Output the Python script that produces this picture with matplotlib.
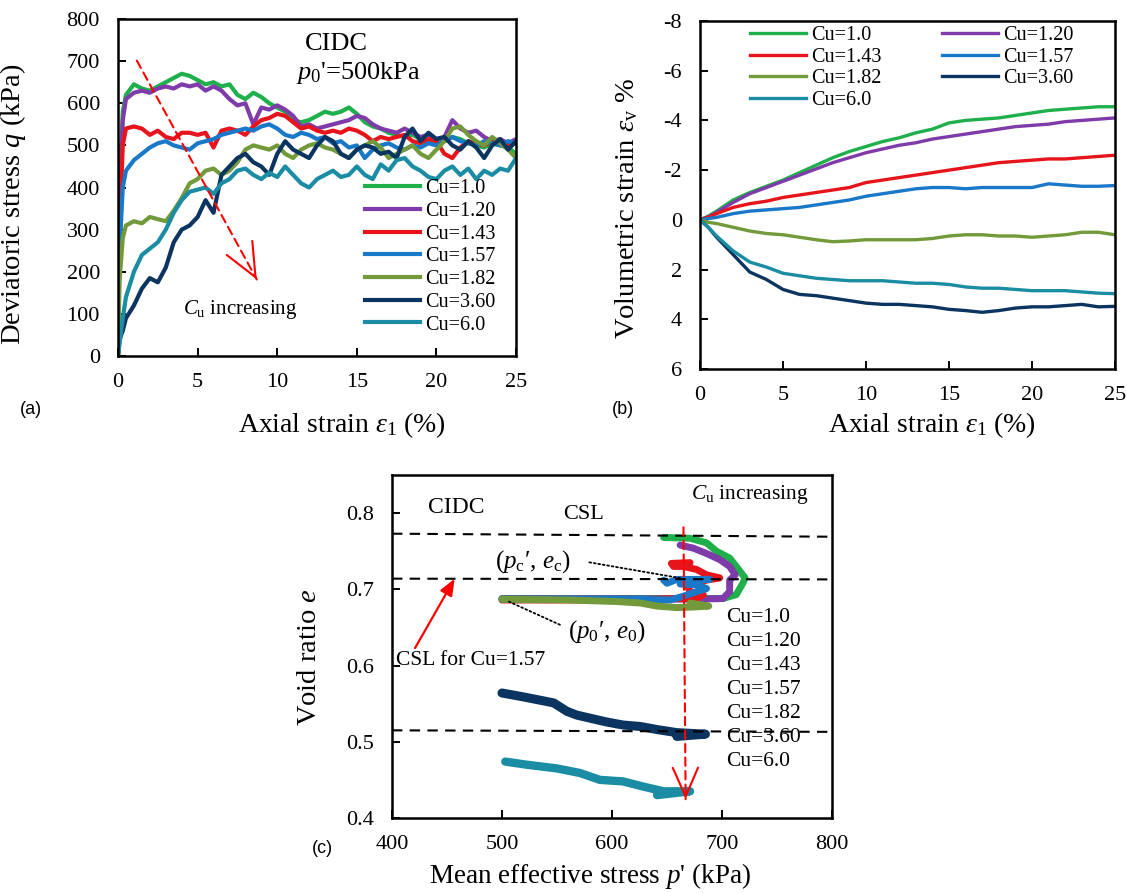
import numpy as np
import matplotlib.pyplot as plt

plt.rcParams['font.family'] = ['Liberation Serif', 'DejaVu Serif']
plt.rcParams['mathtext.fontset'] = 'custom'
plt.rcParams['mathtext.rm'] = 'Liberation Serif'
plt.rcParams['mathtext.it'] = 'Liberation Serif:italic'
plt.rcParams['axes.unicode_minus'] = False

labels = ['Cu=1.0', 'Cu=1.20', 'Cu=1.43', 'Cu=1.57', 'Cu=1.82', 'Cu=3.60', 'Cu=6.0']
colors = ['#1FAF4B', '#7E3BA9', '#E8141B', '#1A78C8', '#72993A', '#0B3560', '#1A8CA3']

# (a) deviatoric stress vs axial strain
strain_a = [0, 0.1, 0.3, 0.5, 1.0, 1.5, 2.0, 2.5, 3.0, 3.5, 4.0, 4.5, 5.0, 5.5, 6.0, 6.5,
            7.0, 7.5, 8.0, 8.5, 9.0, 9.5, 10.0, 10.5, 11.0, 11.5, 12.0, 12.5, 13.0, 13.5,
            14.0, 14.5, 15.0, 15.5, 16.0, 16.5, 17.0, 17.5, 18.0, 18.5, 19.0, 19.5, 20.0,
            20.5, 21.0, 21.5, 22.0, 22.5, 23.0, 23.5, 24.0, 24.5, 25.0]
q_100 = [0, 400, 580, 620, 645, 635, 630, 640, 650, 660, 670, 665, 655, 645, 650, 640, 645,
         620, 610, 625, 615, 600, 590, 580, 560, 555, 560, 570, 580, 575, 580, 590, 575, 555,
         545, 540, 530, 525, 520, 525, 515, 510, 505, 510, 520, 515, 505, 500, 495, 505, 500,
         495, 480]
q_120 = [0, 350, 560, 610, 625, 630, 625, 635, 640, 635, 645, 640, 645, 630, 640, 630, 610,
         595, 600, 550, 590, 585, 595, 585, 570, 545, 550, 540, 545, 550, 555, 560, 570, 565,
         550, 540, 535, 530, 540, 530, 520, 525, 515, 520, 560, 540, 530, 535, 520, 510, 515,
         505, 515]
q_143 = [0, 300, 500, 540, 545, 540, 525, 535, 520, 515, 530, 530, 525, 530, 495, 535, 540,
         535, 525, 545, 560, 565, 575, 570, 555, 540, 545, 535, 530, 535, 530, 540, 535, 525,
         510, 520, 515, 520, 525, 510, 505, 515, 510, 480, 470, 495, 510, 505, 500, 510, 505,
         500, 505]
q_157 = [0, 250, 400, 440, 465, 480, 495, 505, 510, 500, 495, 490, 505, 510, 515, 525, 530,
         535, 540, 535, 545, 550, 540, 525, 520, 530, 525, 515, 520, 505, 510, 495, 500, 470,
         490, 500, 505, 495, 490, 500, 495, 505, 500, 510, 520, 510, 505, 500, 510, 505, 500,
         510, 505]
q_182 = [0, 180, 280, 310, 320, 315, 330, 325, 320, 345, 375, 410, 420, 440, 445, 430, 440,
         460, 490, 500, 495, 490, 500, 480, 470, 490, 500, 505, 495, 490, 480, 470, 490, 500,
         510, 495, 470, 480, 490, 500, 480, 470, 490, 510, 540, 545, 525, 510, 500, 520, 505,
         490, 470]
q_360 = [0, 40, 60, 90, 120, 160, 185, 175, 210, 270, 300, 310, 330, 370, 340, 430, 450,
         470, 480, 460, 450, 430, 480, 510, 490, 480, 470, 500, 520, 510, 480, 470, 490, 500,
         495, 480, 485, 470, 520, 540, 510, 530, 515, 520, 500, 490, 510, 495, 470, 500, 515,
         490, 510]
q_600 = [0, 30, 90, 140, 200, 240, 255, 270, 300, 340, 370, 390, 395, 400, 385, 410, 420,
         440, 445, 430, 420, 435, 425, 450, 430, 410, 400, 420, 430, 440, 425, 430, 450, 430,
         420, 455, 440, 465, 470, 450, 440, 425, 420, 440, 450, 430, 445, 420, 440, 430, 445,
         440, 470]

# (b) volumetric strain vs axial strain
strain_b = [0, 0.5, 1, 2, 3, 4, 5, 6, 7, 8, 9, 10, 11, 12, 13, 14, 15, 16, 17, 18, 19,
            20, 21, 22, 23, 24, 25]
ev_100 = [0, -0.15, -0.35, -0.8, -1.1, -1.35, -1.6, -1.9, -2.2, -2.5, -2.75, -2.95, -3.15,
          -3.3, -3.5, -3.65, -3.9, -4.0, -4.05, -4.1, -4.2, -4.3, -4.4, -4.45, -4.5, -4.55, -4.55]
ev_120 = [0, -0.12, -0.3, -0.7, -1.05, -1.3, -1.55, -1.8, -2.05, -2.3, -2.5, -2.7, -2.85,
          -3.0, -3.1, -3.25, -3.35, -3.45, -3.55, -3.65, -3.75, -3.8, -3.85, -3.95, -4.0, -4.05, -4.1]
ev_143 = [0, -0.1, -0.25, -0.5, -0.65, -0.75, -0.9, -1.0, -1.1, -1.2, -1.3, -1.5, -1.6,
          -1.7, -1.8, -1.9, -2.0, -2.1, -2.2, -2.3, -2.35, -2.4, -2.45, -2.45, -2.5, -2.55, -2.6]
ev_157 = [0, -0.05, -0.1, -0.25, -0.35, -0.4, -0.45, -0.5, -0.6, -0.7, -0.8, -0.95, -1.05,
          -1.15, -1.25, -1.3, -1.3, -1.25, -1.3, -1.3, -1.3, -1.3, -1.45, -1.4, -1.35, -1.35, -1.38]
ev_182 = [0, 0.1, 0.15, 0.3, 0.45, 0.55, 0.6, 0.7, 0.8, 0.88, 0.85, 0.8, 0.8, 0.8, 0.8,
          0.75, 0.65, 0.6, 0.6, 0.65, 0.65, 0.7, 0.65, 0.6, 0.5, 0.5, 0.6]
ev_360 = [0, 0.3, 0.7, 1.4, 2.1, 2.4, 2.8, 3.0, 3.05, 3.15, 3.25, 3.35, 3.4, 3.4, 3.45,
          3.5, 3.6, 3.65, 3.72, 3.65, 3.55, 3.5, 3.5, 3.45, 3.4, 3.5, 3.48]
ev_600 = [0, 0.3, 0.65, 1.25, 1.7, 1.9, 2.15, 2.25, 2.35, 2.4, 2.45, 2.45, 2.45, 2.5, 2.55,
          2.55, 2.6, 2.7, 2.75, 2.75, 2.8, 2.85, 2.85, 2.85, 2.9, 2.95, 2.97]

# (c) void ratio vs mean effective stress
p_100 = [500, 560, 620, 650, 671, 701, 713, 719, 721, 713, 707, 695, 686, 671, 647]
e_100 = [0.688, 0.688, 0.688, 0.688, 0.688, 0.688, 0.693, 0.708, 0.715, 0.730, 0.741, 0.750,
         0.761, 0.767, 0.768]
p_120 = [500, 560, 620, 677, 701, 707, 707, 712, 707, 698, 686, 674, 662]
e_120 = [0.6875, 0.6875, 0.6875, 0.687, 0.688, 0.697, 0.712, 0.719, 0.730, 0.739, 0.747,
         0.754, 0.758]
p_143 = [500, 560, 620, 659, 677, 683, 671, 668, 686, 698, 686, 677, 665, 656, 654, 671]
e_143 = [0.686, 0.686, 0.686, 0.688, 0.688, 0.693, 0.697, 0.706, 0.712, 0.715, 0.719, 0.726,
         0.730, 0.730, 0.734, 0.735]
p_157 = [500, 560, 620, 653, 665, 677, 686, 677, 662, 671, 689, 659, 650, 647]
e_157 = [0.687, 0.687, 0.687, 0.686, 0.691, 0.697, 0.701, 0.706, 0.707, 0.712, 0.713, 0.713,
         0.708, 0.712]
p_182 = [500, 560, 604, 626, 641, 659, 677, 688, 671]
e_182 = [0.687, 0.686, 0.684, 0.682, 0.678, 0.676, 0.677, 0.678, 0.682]
p_360 = [500, 519, 547, 559, 568, 595, 610, 626, 641, 659, 685, 659]
e_360 = [0.564, 0.559, 0.551, 0.540, 0.535, 0.526, 0.522, 0.520, 0.516, 0.512, 0.510, 0.507]
p_600 = [503, 522, 550, 571, 589, 610, 629, 647, 671, 641]
e_600 = [0.474, 0.470, 0.465, 0.459, 0.450, 0.448, 0.441, 0.435, 0.435, 0.430]

csl_p = [400, 800]
csl_e = [[0.773, 0.769], [0.714, 0.713], [0.515, 0.513]]

q_all = [q_100, q_120, q_143, q_157, q_182, q_360, q_600]
ev_all = [ev_100, ev_120, ev_143, ev_157, ev_182, ev_360, ev_600]
p_all = [p_100, p_120, p_143, p_157, p_182, p_360, p_600]
e_all = [e_100, e_120, e_143, e_157, e_182, e_360, e_600]
lw_c = [5, 5, 5, 5, 5, 6.5, 6]


def style(ax):
    for s in ax.spines.values():
        s.set_linewidth(1.8)
    ax.tick_params(direction='in', length=6, width=1.4, labelsize=16)
    ax.tick_params(axis='x', pad=12)
    ax.tick_params(axis='y', pad=13)


def red_arrow(ax, start, end, head=26):
    ax.annotate('', xy=end, xytext=start,
                arrowprops=dict(arrowstyle='-', color='red', lw=1.5, ls=(0, (4, 2.5))))
    back = (end[0] + 0.04 * (start[0] - end[0]), end[1] + 0.04 * (start[1] - end[1]))
    ax.annotate('', xy=end, xytext=back,
                arrowprops=dict(arrowstyle='->,head_length=0.8,head_width=0.35',
                                color='red', lw=1.5, mutation_scale=head))


fig = plt.figure(figsize=(11.27, 8.93), dpi=100)

# ---- (a)
axa = fig.add_axes([0.1047, 0.6013, 0.3532, 0.3774])
for q, c, lab in zip(q_all, colors, labels):
    axa.plot(strain_a, q, color=c, lw=3, label=lab)
axa.set_xlim(0, 25)
axa.set_ylim(0, 800)
axa.set_xticks([0, 5, 10, 15, 20, 25])
axa.set_yticks(range(0, 801, 100))
style(axa)
axa.set_ylabel('Deviatoric stress $q$ (kPa)', fontsize=20.5)
axa.yaxis.set_label_coords(-0.225, 0.45)
axa.set_xlabel(r'Axial strain $\varepsilon_1$ (%)', fontsize=20)
axa.xaxis.set_label_coords(0.563, -0.16)
axa.legend(loc='upper left', bbox_to_anchor=(0.62, 0.525), frameon=False, fontsize=14.5,
           handlelength=2.75, handletextpad=0.25, labelspacing=0.18, borderpad=0,
           borderaxespad=0)
axa.text(13.7, 740, 'CIDC', fontsize=19, ha='center', va='center')
axa.text(15.1, 672, r"$p_{\mathit{0}}$'=500kPa", fontsize=19, ha='center', va='center')
axa.text(7.7, 110, r'$C_{\rm u}$ increasing', fontsize=15, ha='center', va='center')
red_arrow(axa, (1.1, 707), (8.8, 176), head=30)
fig.text(0.0177, 0.541, '(a)', fontsize=13, family='Liberation Sans', va='center')

# ---- (b)
axb = fig.add_axes([0.6211, 0.5868, 0.3682, 0.3897])
lines_b = []
for ev, c, lab in zip(ev_all, colors, labels):
    ln, = axb.plot(strain_b, ev, color=c, lw=2.4, label=lab)
    lines_b.append(ln)
axb.set_xlim(0, 25)
axb.set_ylim(6, -8)
axb.set_xticks([0, 5, 10, 15, 20, 25])
axb.set_yticks(range(-8, 7, 2))
style(axb)
axb.set_ylabel(r'Volumetric strain $\varepsilon_{\rm v}$ %', fontsize=20.5)
axb.yaxis.set_label_coords(-0.145, 0.46)
axb.set_xlabel(r'Axial strain $\varepsilon_1$ (%)', fontsize=20)
axb.xaxis.set_label_coords(0.559, -0.12)
order = [0, 2, 4, 6, 1, 3, 5]
axb.legend([lines_b[i] for i in order], [labels[i] for i in order], ncol=2,
           loc='upper left', bbox_to_anchor=(0.12, 0.985), frameon=False, fontsize=14.5,
           handlelength=2.8, handletextpad=0.25, labelspacing=0.12, columnspacing=3.0,
           borderpad=0, borderaxespad=0)
fig.text(0.543, 0.541, '(b)', fontsize=13, family='Liberation Sans', va='center')

# ---- (c)
axc = fig.add_axes([0.3478, 0.0840, 0.3904, 0.3841])
for p, e, c, w in zip(p_all, e_all, colors, lw_c):
    axc.plot(p, e, color=c, lw=w, solid_capstyle='round', solid_joinstyle='round')
for ce in csl_e:
    axc.plot(csl_p, ce, color='black', lw=1.5, ls=(0, (5, 3.5)), zorder=3)
axc.set_xlim(400, 800)
axc.set_ylim(0.4, 0.85)
axc.set_xticks([400, 500, 600, 700, 800])
axc.set_yticks([0.4, 0.5, 0.6, 0.7, 0.8])
style(axc)
axc.set_ylabel('Void ratio $e$', fontsize=20.5)
axc.yaxis.set_label_coords(-0.16, 0.47)
axc.set_xlabel("Mean effective stress $p$' (kPa)", fontsize=19.5)
axc.xaxis.set_label_coords(0.45, -0.125)
for i, lab in enumerate(labels):
    axc.text(704, 0.6625 - i * 0.0315, lab, fontsize=15.5, va='center', ha='left')
axc.text(458, 0.807, 'CIDC', fontsize=17, ha='center', va='center')
axc.text(574, 0.798, 'CSL', fontsize=16, ha='center', va='center')
axc.text(725, 0.824, r'$C_{\rm u}$ increasing', fontsize=15.5, ha='center', va='center')
axc.text(528, 0.736, r"($p_{\rm c}$′, $e_{\rm c}$)", fontsize=18, ha='center', va='center')
axc.text(595, 0.645, r"($p_{0}$′, $e_{0}$)", fontsize=18, ha='center', va='center')
axc.text(404, 0.606, 'CSL for Cu=1.57', fontsize=15.5, ha='left', va='center')
axc.annotate('', xy=(665, 0.714), xytext=(577, 0.736),
             arrowprops=dict(arrowstyle='-', color='black', lw=1.3, ls=(0, (1, 1.5))))
axc.annotate('', xy=(503, 0.686), xytext=(555, 0.652),
             arrowprops=dict(arrowstyle='-', color='black', lw=1.3, ls=(0, (1, 1.5))))
axc.annotate('', xy=(457, 0.714), xytext=(421, 0.623),
             arrowprops=dict(arrowstyle='-|>,head_length=0.5,head_width=0.2', color='red',
                             lw=1.6, mutation_scale=20, shrinkA=0, shrinkB=0))
red_arrow(axc, (665, 0.785), (667, 0.421))
fig.text(0.277, 0.05, '(c)', fontsize=13, family='Liberation Sans', va='center')

fig.savefig('out.png', dpi=100)
